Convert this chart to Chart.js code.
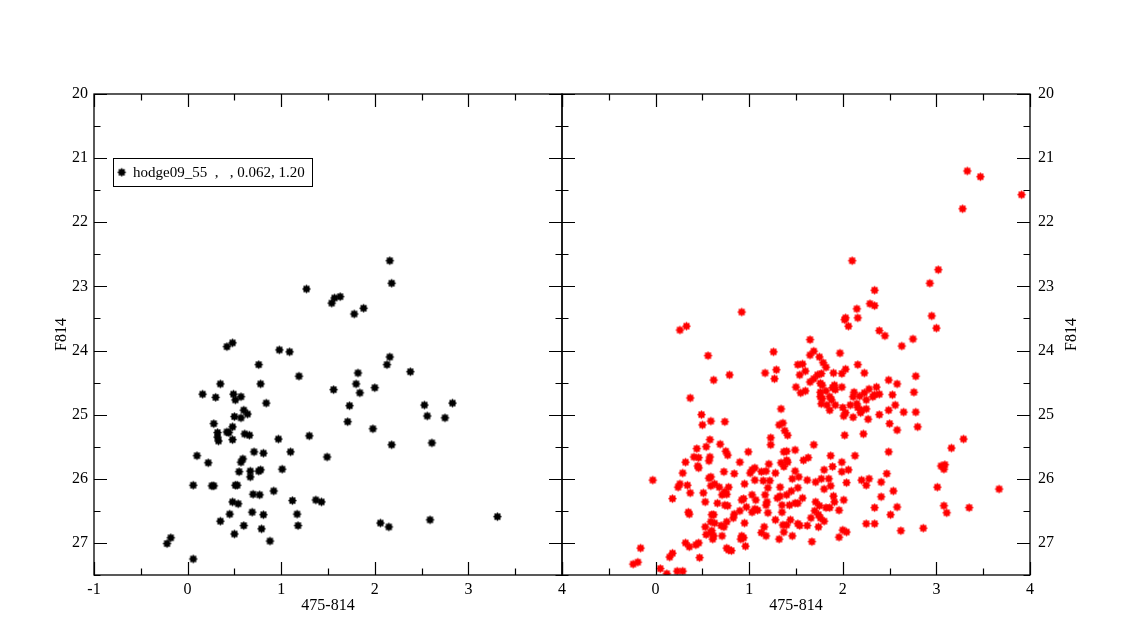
<!DOCTYPE html>
<html>
<head>
<meta charset="utf-8">
<script src="https://cdn.jsdelivr.net/npm/chart.js@4/dist/chart.umd.min.js"></script>
<style>
  body { margin: 0; background: #fff; }
  #wrap { position: relative; width: 1125px; height: 625px; }
  canvas { position: absolute; left: 0; top: 0; }
</style>
</head>
<body>
<div id="wrap">
  <canvas id="leftChart" width="1125" height="625"></canvas>
  <canvas id="rightChart" width="1125" height="625"></canvas>
</div>
<script>
// --- DATA ---
const xTicks = [-1, 0, 1, 2, 3, 4];
const yTicks = [20, 21, 22, 23, 24, 25, 26, 27];
const xTitle = "475-814";
const yTitle = "F814";
const legendText = "hodge09_55  ,   , 0.062, 1.20";

// panneau gauche (noir)
const leftX = [1.27,0.42,0.48,0.98,1.09,0.76,1.19,0.35,0.78,0.16,0.30,0.49,0.57,0.51,0.84,0.60,0.64,0.50,0.57,0.28,
  0.48,0.32,0.42,0.44,0.32,0.33,0.48,0.61,0.66,0.97,1.30,0.10,0.22,0.59,0.57,0.71,0.81,1.10,1.49,0.55,
  0.67,0.76,0.78,0.67,1.01,0.06,0.26,0.28,0.51,0.53,0.70,0.77,0.92,1.12,0.48,0.54,1.37,1.43,0.69,0.45,
  0.81,1.17,0.35,0.60,1.18,0.50,0.79,0.88,-0.18,-0.22,0.06,2.16,2.18,1.54,1.57,1.63,1.78,1.88,2.16,2.13,
  1.82,1.80,2.38,1.56,1.84,2.00,1.73,2.53,2.83,2.56,2.75,1.71,1.98,2.18,2.61,2.06,2.15,2.59,3.31];
const leftY = [23.04,23.94,23.88,23.99,24.02,24.22,24.40,24.52,24.52,24.68,24.73,24.68,24.72,24.77,24.82,24.93,24.99,25.03,25.05,25.14,
  25.19,25.28,25.27,25.28,25.35,25.41,25.39,25.30,25.32,25.38,25.33,25.64,25.75,25.69,25.74,25.58,25.60,25.58,25.66,25.89,
  25.88,25.88,25.86,25.97,25.85,26.10,26.11,26.11,26.10,26.10,26.24,26.25,26.19,26.34,26.36,26.39,26.33,26.36,26.52,26.55,
  26.56,26.55,26.66,26.73,26.73,26.86,26.78,26.97,26.92,27.01,27.25,22.60,22.95,23.26,23.18,23.16,23.43,23.34,24.10,24.22,
  24.35,24.52,24.33,24.61,24.66,24.58,24.86,24.85,24.82,25.02,25.05,25.11,25.22,25.47,25.44,26.69,26.75,26.64,26.59];

// panneau droit (rouge)
const rightX = [3.33,3.47,3.91,3.28,2.10,3.02,2.93,2.34,2.15,2.29,2.34,0.92,2.95,2.03,2.02,2.16,2.06,3.00,0.33,0.26,
  2.39,2.45,2.75,1.65,0.56,0.79,0.62,0.37,0.49,0.50,0.59,0.74,0.58,0.54,0.69,0.44,0.75,0.77,0.99,0.41,
  0.46,0.58,2.63,1.26,1.69,1.65,1.97,1.75,1.52,1.57,1.79,1.82,2.16,1.29,1.17,1.60,1.54,2.03,1.90,1.99,
  2.23,1.27,1.73,1.69,1.77,1.65,1.76,1.78,1.50,2.49,2.78,2.58,1.91,1.89,1.99,1.92,1.60,1.55,1.76,1.82,
  1.76,1.78,2.12,2.36,2.28,2.18,2.11,2.23,2.34,2.39,2.32,2.25,2.76,2.53,1.86,1.88,1.77,1.83,1.92,1.86,
  2.00,2.08,2.15,2.16,2.20,2.25,2.19,2.03,2.01,2.11,2.27,2.39,2.49,2.56,2.65,2.78,2.50,2.58,2.80,1.34,
  1.36,1.32,1.38,1.41,1.23,1.23,1.69,2.02,2.22,1.49,1.37,1.40,1.87,2.13,2.49,1.63,3.29,3.16,3.05,3.09,
  3.08,3.01,3.67,3.08,3.35,3.11,0.57,0.32,0.90,0.45,0.46,1.03,1.06,0.29,0.73,0.84,1.01,-0.03,0.57,0.59,
  1.06,0.24,0.26,0.34,0.59,0.63,0.68,0.78,0.95,0.37,0.51,0.71,0.74,0.76,1.03,0.18,0.53,0.66,0.74,0.77,
  0.92,0.94,1.07,0.97,0.35,0.36,0.60,0.62,0.90,0.84,1.06,1.03,0.83,0.59,0.63,0.53,0.70,0.73,0.76,0.95,
  0.60,0.59,0.62,0.54,0.71,0.61,0.92,0.94,0.91,0.32,0.36,0.43,0.46,0.96,0.76,0.78,0.81,-0.16,0.18,0.15,
  0.47,-0.19,-0.24,0.05,0.12,0.23,0.29,1.21,1.34,1.40,1.41,1.37,1.58,1.99,1.89,1.80,1.49,2.06,1.99,1.13,
  1.18,1.28,1.53,1.46,1.62,1.15,1.22,1.20,1.33,1.71,1.77,1.85,1.80,1.87,2.04,2.20,2.28,2.25,2.47,2.41,
  2.54,1.52,1.45,1.40,1.30,1.33,1.17,1.57,1.90,1.91,2.01,2.41,1.19,1.18,1.35,1.43,1.49,1.52,1.71,1.75,
  1.82,1.86,1.96,1.09,1.35,1.20,1.70,1.74,1.66,2.34,2.58,2.51,1.76,1.80,1.44,1.28,1.52,1.54,1.62,1.74,
  1.36,1.40,1.16,2.25,2.34,1.37,1.13,1.18,1.46,1.32,2.00,2.04,1.96,1.67,2.62,2.86];
const rightY = [21.20,21.29,21.57,21.79,22.60,22.74,22.95,23.06,23.35,23.27,23.30,23.40,23.46,23.49,23.52,23.49,23.62,23.65,23.62,23.68,
  23.69,23.77,23.82,23.83,24.08,24.38,24.46,24.74,25.00,25.16,25.10,25.11,25.39,25.50,25.46,25.53,25.57,25.63,25.58,25.66,
  25.67,25.66,23.93,24.02,24.01,24.07,24.04,24.10,24.22,24.21,24.19,24.26,24.22,24.30,24.35,24.32,24.38,24.29,24.35,24.36,
  24.35,24.44,24.38,24.44,24.36,24.49,24.51,24.54,24.57,24.46,24.40,24.52,24.54,24.58,24.57,24.61,24.63,24.66,24.65,24.63,
  24.72,24.75,24.65,24.57,24.60,24.71,24.72,24.66,24.69,24.68,24.72,24.77,24.65,24.69,24.72,24.77,24.83,24.85,24.85,24.93,
  24.89,24.85,24.83,24.89,24.93,24.91,24.97,24.97,25.02,25.04,25.07,25.00,24.93,24.85,24.96,24.96,25.14,25.24,25.19,24.91,
  25.13,25.16,25.25,25.32,25.36,25.47,25.47,25.32,25.30,25.55,25.58,25.57,25.64,25.64,25.58,25.67,25.38,25.52,25.80,25.78,
  25.85,26.13,26.16,26.42,26.45,26.53,25.72,25.74,25.74,25.80,25.83,25.86,25.83,25.91,25.89,25.92,25.91,26.02,25.99,25.97,
  26.02,26.13,26.08,26.10,26.11,26.08,26.13,26.13,26.08,26.22,26.22,26.25,26.20,26.24,26.25,26.31,26.36,26.38,26.41,26.42,
  26.33,26.31,26.33,26.44,26.52,26.55,26.56,26.56,26.50,26.55,26.47,26.52,26.61,26.67,26.69,26.75,26.73,26.75,26.67,26.69,
  26.81,26.84,26.89,26.87,26.89,26.94,26.89,26.92,26.94,27.00,27.06,27.03,27.00,27.05,27.08,27.11,27.12,27.08,27.16,27.22,
  27.23,27.30,27.33,27.40,27.48,27.44,27.44,25.77,25.75,25.71,25.74,25.81,25.71,25.74,25.81,25.86,25.88,25.86,25.89,25.89,
  25.88,25.91,25.97,26.00,26.02,26.03,26.03,26.14,26.13,26.05,26.00,26.00,26.16,26.11,26.06,26.02,26.00,26.10,25.92,26.05,
  26.19,26.14,26.19,26.25,26.30,26.27,26.25,26.30,26.27,26.36,26.33,26.28,26.36,26.41,26.41,26.41,26.38,26.38,26.36,26.42,
  26.45,26.45,26.49,26.49,26.52,26.53,26.50,26.56,26.61,26.45,26.44,26.56,26.61,26.66,26.64,26.64,26.70,26.73,26.73,26.75,
  26.72,26.72,26.75,26.70,26.70,26.83,26.84,26.89,26.89,26.94,26.80,26.83,26.91,26.98,26.81,26.77];

// --- STYLE ---
const FONT = '"Liberation Serif", "Times New Roman", serif';

// marqueur étoile pleine (façon xmgrace)
function makeMarker(color) {
    const c = document.createElement("canvas");
    c.width = 11; c.height = 11;
    const g = c.getContext("2d");
    g.fillStyle = color;
    g.strokeStyle = color;
    g.beginPath();
    g.arc(5.5, 5.5, 3.2, 0, Math.PI * 2);
    g.fill();
    g.lineWidth = 1.4;
    for (let k = 0; k < 4; k++) {
        const a = k * Math.PI / 4;
        g.beginPath();
        g.moveTo(5.5 - Math.cos(a) * 4.1, 5.5 - Math.sin(a) * 4.1);
        g.lineTo(5.5 + Math.cos(a) * 4.1, 5.5 + Math.sin(a) * 4.1);
        g.stroke();
    }
    return c;
}

// cadre, graduations internes, libellés
const framePlugin = {
    id: "frame",
    afterDraw(chart, args, o) {
        const ctx = chart.ctx;
        const a = chart.chartArea;
        const xs = chart.scales.x, ys = chart.scales.y;
        ctx.save();
        ctx.strokeStyle = "#000";
        ctx.lineWidth = 1.3;
        ctx.strokeRect(a.left, a.top, a.right - a.left, a.bottom - a.top);

        ctx.beginPath();
        for (let v = xs.min; v <= xs.max + 1e-9; v += 0.5) {
            const px = Math.round(xs.getPixelForValue(v)) + 0.5;
            const len = Number.isInteger(v) ? 13 : 6.5;
            ctx.moveTo(px, a.bottom); ctx.lineTo(px, a.bottom - len);
            ctx.moveTo(px, a.top); ctx.lineTo(px, a.top + len);
        }
        for (let v = ys.min; v <= ys.max + 1e-9; v += 0.5) {
            const py = Math.round(ys.getPixelForValue(v)) + 0.5;
            const len = Number.isInteger(v) ? 13 : 6.5;
            ctx.moveTo(a.left, py); ctx.lineTo(a.left + len, py);
            ctx.moveTo(a.right, py); ctx.lineTo(a.right - len, py);
        }
        ctx.lineWidth = 1.2;
        ctx.stroke();

        ctx.fillStyle = "#000";
        ctx.font = "16px " + FONT;
        ctx.textAlign = "center";
        ctx.textBaseline = "top";
        o.xLabels.forEach(v => ctx.fillText(String(v), xs.getPixelForValue(v), a.bottom + 7));
        ctx.textBaseline = "middle";
        yTicks.forEach(v => {
            const py = ys.getPixelForValue(v);
            if (o.yRight) { ctx.textAlign = "left"; ctx.fillText(String(v), a.right + 8, py); }
            else { ctx.textAlign = "right"; ctx.fillText(String(v), a.left - 6, py); }
        });

        ctx.textAlign = "center";
        ctx.textBaseline = "middle";
        ctx.fillText(xTitle, (a.left + a.right) / 2, a.bottom + 31);
        ctx.save();
        ctx.translate(o.yRight ? a.right + 42 : a.left - 32, (a.top + a.bottom) / 2);
        ctx.rotate(-Math.PI / 2);
        ctx.fillText(yTitle, 0, 0);
        ctx.restore();

        if (o.legend) {
            ctx.lineWidth = 1;
            ctx.strokeRect(113.5, 158.5, 199, 28);
            ctx.drawImage(o.marker, 121.7 - 5.5, 172.3 - 5.5);
            ctx.font = "15px " + FONT;
            ctx.textAlign = "left";
            ctx.fillText(legendText, 133, 173);
        }
        ctx.restore();
    }
};

function makeChart(id, xs, ys, color, pad, extra) {
    const marker = makeMarker(color);
    const pts = xs.map((x, i) => ({ x: x, y: ys[i] }));
    return new Chart(document.getElementById(id), {
        type: "scatter",
        data: {
            datasets: [{
                data: pts,
                pointStyle: marker,
                pointRadius: 5,
                pointHoverRadius: 5
            }]
        },
        options: {
            responsive: false,
            animation: false,
            devicePixelRatio: 1,
            layout: { padding: pad },
            events: [],
            scales: {
                x: { type: "linear", min: -1, max: 4, display: false },
                y: { type: "linear", min: 20, max: 27.5, reverse: true, display: false }
            },
            plugins: {
                legend: { display: false },
                tooltip: { enabled: false },
                frame: Object.assign({ marker: marker }, extra)
            }
        },
        plugins: [framePlugin]
    });
}

document.addEventListener("DOMContentLoaded", () => {
    makeChart("leftChart", leftX, leftY, "#000000",
        { left: 94, top: 94, right: 1125 - 562, bottom: 50 },
        { xLabels: xTicks, yRight: false, legend: true });
    makeChart("rightChart", rightX, rightY, "#ff0000",
        { left: 562, top: 94, right: 1125 - 1030, bottom: 50 },
        { xLabels: xTicks.slice(1), yRight: true, legend: false });
});
</script>
</body>
</html>
